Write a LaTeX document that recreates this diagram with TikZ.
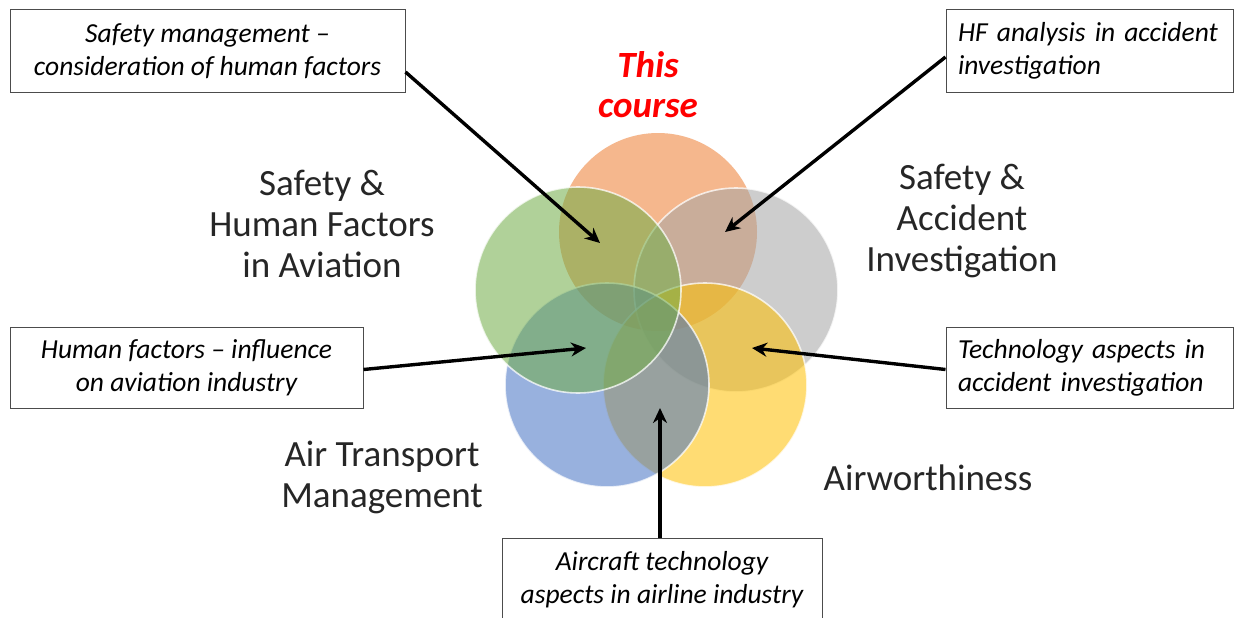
\documentclass[tikz,border=0pt]{standalone}
\usepackage{fontspec}
\setmainfont{Carlito}
\usetikzlibrary{arrows.meta}
\definecolor{corange}{RGB}{237,125,49}
\definecolor{cgreen}{RGB}{112,173,71}
\definecolor{cgray}{RGB}{165,165,165}
\definecolor{cblue}{RGB}{68,114,196}
\definecolor{cyellow}{RGB}{255,192,0}
\definecolor{cred}{RGB}{255,0,0}
\tikzset{
  circ/.style={fill opacity=0.55, draw=white, draw opacity=0.75, line width=1.6pt},
  lab/.style={font=\fontsize{37}{41}\selectfont, align=center, text=black!85},
  box/.style={draw=black!70, line width=1pt, fill=white, font=\fontsize{27.5}{33}\selectfont\itshape, inner sep=0pt},
  arr/.style={line width=3.4pt, -{Stealth[length=15pt,width=14pt]}}
}
\begin{document}
\begin{tikzpicture}[x=1pt,y=-1pt]
\useasboundingbox (0,0) rectangle (1234,618);
\fill[white] (0,0) rectangle (1234,618);
% circles
\fill[corange, fill opacity=0.55] (658,232) circle (99);
\filldraw[cgray, circ] (736,290) circle (102);
\filldraw[cyellow, circ] (705,385) circle (102);
\filldraw[cblue, circ] (607,385) circle (102);
\filldraw[cgreen, circ] (578,290) circle (103);
% labels
\node[lab, text=cred, font=\fontsize{37}{40}\selectfont\bfseries\itshape] (course) at (648,85) {This\\course};
\node[lab] (shf) at (322,224) {Safety \&\\Human Factors\\in Aviation};
\node[lab] (sai) at (962,221) {Safety \&\\Accident\\Investigation};
\node[lab] (atm) at (382,477) {Air Transport\\Management};
\node[lab] (aw) at (928,478) {Airworthiness};
% boxes
\node[box, minimum width=395pt, minimum height=82pt, align=center] (sm) at (207.5,51) {Safety management --\\consideration of human factors};
\node[box, minimum width=287pt, minimum height=82pt, text width=263pt, align=left] (hf) at (1089.5,51) {HF analysis in accident\\investigation};
\node[box, minimum width=353pt, minimum height=81pt, align=center] (hfi) at (186.5,367.5) {Human factors -- influence\\on aviation industry};
\node[box, minimum width=287pt, minimum height=81pt, text width=263pt, align=left] (tech) at (1089.5,367.5) {Technology aspects in\\accident investigation};
\node[box, minimum width=320pt, minimum height=84pt, align=center] (ac) at (662,580) {Aircraft technology\\aspects in airline industry};
% arrow tips
\coordinate (t1) at (600,243);
\coordinate (t2) at (725,232);
\coordinate (t3) at (586,348);
\coordinate (t4) at (752,348);
\coordinate (t5) at (660,408);
\draw[arr] ([yshift=-21pt]sm.east) -- (t1);
\draw[arr] ([yshift=-6pt]hf.west) -- (t2);
\draw[arr] ([yshift=-2pt]hfi.east) -- (t3);
\draw[arr] ([yshift=-2pt]tech.west) -- (t4);
\draw[arr] ([xshift=-2pt]ac.north) -- (t5);
\end{tikzpicture}
\end{document}
